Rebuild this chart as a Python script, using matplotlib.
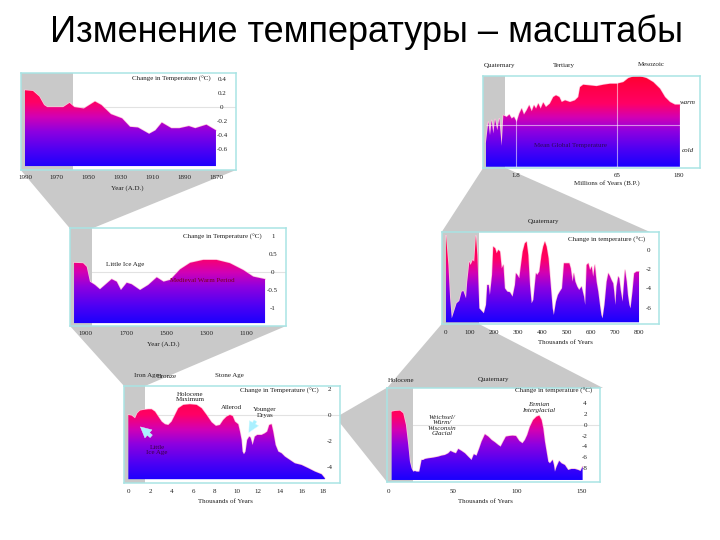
import numpy as np
import matplotlib
matplotlib.use('Agg')
import matplotlib.pyplot as plt
from matplotlib.colors import LinearSegmentedColormap
from matplotlib.patches import Polygon

plt.rcParams['font.family'] = ['Liberation Serif', 'DejaVu Serif']

TITLE = "Изменение температуры – масштабы"

# ---------------- data ----------------
# Panel 1: last ~120 years
p1_year = [1990, 1985, 1981, 1978, 1976, 1966, 1962, 1959, 1953, 1946, 1942, 1936, 1929,
           1924, 1919, 1912, 1908, 1904, 1898, 1893, 1887, 1883, 1876, 1870]
p1_temp = [0.24, 0.23, 0.15, 0.03, 0.0, 0.0, 0.06, 0.0, -0.02, 0.08, 0.03, -0.1, -0.16,
           -0.28, -0.29, -0.38, -0.33, -0.22, -0.3, -0.3, -0.27, -0.3, -0.25, -0.33]
p1_xticks = [1990, 1970, 1950, 1930, 1910, 1890, 1870]
p1_yticks = [0.4, 0.2, 0, -0.2, -0.4, -0.6]
p1_ylabels = ['0.4', '0.2', '0', '-0.2', '-0.4', '-0.6']

# Panel 2: last ~1000 years
p2_year = [1958, 1913, 1895, 1879, 1854, 1829, 1804, 1771, 1746, 1725, 1696, 1672, 1630,
           1589, 1547, 1513, 1480, 1431, 1381, 1316, 1250, 1184, 1117, 1068, 1009]
p2_temp = [0.25, 0.24, 0.14, -0.27, -0.36, -0.48, -0.36, -0.2, -0.27, -0.5, -0.3, -0.34, -0.5,
           -0.36, -0.15, -0.27, -0.22, 0.07, 0.25, 0.33, 0.33, 0.24, 0.05, -0.13, -0.2]
p2_xticks = [1900, 1700, 1500, 1300, 1100]
p2_yticks = [1, 0.5, 0, -0.5, -1]
p2_ylabels = ['1', '0.5', '0', '-0.5', '-1']

# Panel 3: 180 million years (relative units)
p3_myr = [0.0, 0.14, 0.24, 0.34, 0.44, 0.54, 0.68, 0.8, 0.94, 1.04, 1.24, 1.4, 1.54, 1.68,
          2.24, 3.9, 5.4, 6.8, 8.5, 10.1, 11.7, 13.1, 14.4, 15.8, 17.3, 18.9, 20.6, 23.1,
          25.2, 26.9, 29.0, 30.5, 32.6, 35.7, 38.8, 40.9, 42.0, 44.0, 48.2, 52.4, 56.6, 60.8,
          65.0, 77.4, 86.7, 96.0, 108.5, 121.0, 133.3, 145.8, 155.2, 164.5, 173.8, 183.0]
p3_temp = [2.6, 4.6, 3.27, 4.77, 3.44, 4.87, 3.77, 4.94, 2.2, 5.27, 5.1, 5.34, 4.94, 5.1,
           4.6, 5.44, 5.94, 5.34, 5.77, 6.27, 5.67, 6.27, 5.94, 6.44, 5.94, 6.54, 6.1, 6.44,
           7.1, 7.27, 7.1, 6.6, 6.77, 6.6, 6.77, 7.1, 8.1, 8.34, 8.27, 8.2, 8.34, 8.44,
           8.44, 8.6, 9.0, 9.17, 9.2, 9.0, 8.6, 7.94, 7.1, 6.6, 6.34, 6.34]
p3_xticks = [1.8, 65, 180]
p3_xlabels = ['1.8', '65', '180']
p3_breaks = [1.8, 65]
p3_mean = 4.27

# Panel 4: 800 thousand years
p4_kyr = [0, 10, 17, 24, 33, 44, 55, 65, 72, 83, 88, 97, 102, 111, 117, 124, 130, 138, 148, 157,
          166, 171, 177, 182, 191, 196, 204, 210, 217, 224, 231, 238, 244, 254, 265, 276, 286,
          290, 296, 304, 309, 318, 327, 334, 341, 348, 355, 362, 373, 378, 387, 396, 403, 410,
          417, 425, 434, 442, 447, 456, 464, 472, 481, 489, 500, 511, 517, 525, 530, 536, 544,
          552, 562, 572, 577, 583, 590, 597, 604, 610, 617, 624, 631, 638, 644, 649, 657, 666,
          673, 680, 686, 693, 697, 702, 707, 714, 718, 724, 732, 742, 749, 754, 760, 765, 773,
          780, 790, 800]
p4_temp = [1.42, -1.59, -5.02, -7.08, -6.39, -5.53, -5.29, -4.33, -4.27, -5.02,
           -3.31, -1.25, -1.59, -1.08, -1.25, 1.42, -0.57, -6.05, -6.32, -6.56,
           -5.70, -3.65, -3.65, -4.68, -2.62, 0.29, 0.12, -0.39, -0.05, -0.22,
           -1.94, -1.59, -3.99, -4.33, -4.40, -4.85, -3.65, -2.45, -2.62, -2.96,
           -1.94, -0.22, 0.63, 0.80, -0.57, -3.65, -5.53, -5.19, -2.45, -2.62,
           -2.28, -0.57, 0.29, 0.80, 0.29, -0.91, -3.65, -6.05, -6.73, -5.36,
           -4.68, -4.33, -3.99, -1.42, -1.42, -1.42, -1.94, -3.31, -2.45, -3.31,
           -3.82, -4.16, -3.82, -4.85, -5.70, -1.59, -1.42, -2.11, -1.76, -2.79,
           -1.59, -3.31, -4.33, -5.70, -6.73, -7.08, -5.70, -3.31, -2.45, -2.79,
           -3.14, -3.48, -4.33, -5.70, -3.82, -2.79, -2.96, -4.16, -5.36, -2.11,
           -3.31, -4.68, -5.70, -6.05, -4.33, -2.45, -2.28, -2.28]
p4_xticks = [0, 100, 200, 300, 400, 500, 600, 700, 800]
p4_yticks = [0, -2, -4, -6]
p4_ylabels = ['0', '-2', '-4', '-6']

# Panel 5: 18 thousand years
p5_kyr = [0, 0.31, 0.62, 0.83, 1.08, 1.38, 1.85, 2.15, 2.46, 2.77, 3.08, 3.38, 3.69, 4.0,
          4.31, 4.62, 5.08, 5.69, 6.31, 6.77, 7.23, 7.69, 8.09, 8.46, 8.77, 9.08, 9.38, 9.63,
          9.85, 10.15, 10.31, 10.46, 10.55, 10.68, 10.83, 10.98, 11.17, 11.29, 11.48, 11.69,
          11.91, 12.31, 12.62, 12.83, 13.02, 13.23, 13.38, 13.6, 13.85, 14.15, 14.46, 14.92,
          15.38, 16.0, 16.62, 17.23, 17.85, 18.15]
p5_temp = [0.0, -0.05, -0.26, 0.13, 0.34, 0.39, 0.44, 0.44, 0.26, -0.13, -0.52, -0.72, -0.78,
           -0.52, 0.0, 0.52, 0.78, 0.83, 0.78, 0.52, 0.0, -0.57, -0.85, -0.78, -0.39, -0.13,
           0.0, -0.08, -0.52, -0.72, -1.29, -1.94, -2.84, -3.05, -2.84, -1.94, -1.68, -1.76,
           -2.33, -1.68, -1.55, -1.55, -1.42, -1.29, -0.78, -0.72, -1.29, -2.33, -2.84, -2.97,
           -3.23, -3.49, -3.75, -3.88, -4.13, -4.39, -4.6, -4.91]
p5_xticks = [0, 2, 4, 6, 8, 10, 12, 14, 16, 18]
p5_yticks = [2, 0, -2, -4]
p5_ylabels = ['2', '0', '-2', '-4']

# Panel 6: 150 thousand years
p6_kyr = [2.6, 5.2, 9.1, 11.6, 13.7, 15.5, 16.8, 18.1, 19.4, 20.7, 22.0, 24.1, 25.9, 27.2,
          28.5, 31.1, 35.0, 38.8, 41.4, 44.0, 46.6, 48.4, 50.5, 52.6, 54.4, 57.0, 59.6, 62.1,
          64.7, 66.5, 68.6, 70.7, 72.5, 75.1, 77.7, 80.3, 82.9, 85.4, 87.3, 89.3, 91.4, 94.0,
          96.6, 99.2, 101.8, 104.3, 106.2, 108.0, 110.1, 112.6, 115.2, 117.3, 119.1, 120.4,
          121.7, 123.0, 124.3, 125.6, 127.7, 128.7, 129.5, 130.8, 132.8, 134.6, 137.2, 139.8,
          142.4, 145.0, 147.6, 149.4, 151.0]
p6_temp = [2.44, 2.57, 2.63, 2.13, -0.04, -3.76, -6.87, -8.11, -8.73, -8.61, -8.73, -8.73,
           -6.56, -6.56, -6.37, -6.25, -6.12, -5.94, -5.75, -5.63, -5.32, -4.88, -5.13, -5.32,
           -4.51, -4.88, -5.32, -5.94, -6.56, -5.5, -5.75, -4.39, -3.14, -1.78, -2.21, -2.83,
           -3.27, -3.76, -4.07, -3.14, -2.21, -2.09, -2.03, -2.09, -3.02, -3.45, -2.83, -1.90,
           -0.35, 0.89, 1.51, 1.70, 0.89, -0.66, -3.14, -5.0, -6.87, -7.18, -6.56, -7.49,
           -8.73, -7.8, -6.74, -7.18, -7.49, -8.42, -8.23, -8.23, -8.42, -8.61, -7.8]
p6_xticks = [0, 50, 100, 150]
p6_yticks = [4, 2, 0, -2, -4, -6, -8]
p6_ylabels = ['4', '2', '0', '-2', '-4', '-6', '-8']

# ---------------- style ----------------
W, H = 720, 540
GREY = '#c9c9c9'
FRAME = '#a9e4e4'
TXT = '#1e1e1e'
FS = 5
CMAP = LinearSegmentedColormap.from_list(
    'temp', [(0.0, '#1400ff'), (0.2, '#4c00f4'), (0.4, '#8e00e0'),
             (0.55, '#d200b4'), (0.7, '#ff0066'), (1.0, '#ff0030')])
GRAD = np.linspace(0, 1, 256).reshape(-1, 1)

fig = plt.figure(figsize=(W / 100, H / 100), dpi=100)
bg = fig.add_axes([0, 0, 1, 1])
bg.set_xlim(0, W)
bg.set_ylim(H, 0)
bg.axis('off')

connectors = [
    [(20.7, 170), (236, 170), (92, 228.5), (70, 228.5)],
    [(70, 326), (286, 326), (145, 386), (124, 386)],
    [(340, 415), (387, 387.7), (387, 482), (340, 423)],
    [(441.7, 324), (479, 324), (603, 388), (387, 388)],
    [(483.3, 167.7), (505, 167.7), (650, 232), (441.7, 232)],
]
for c in connectors:
    bg.add_patch(Polygon(c, closed=True, facecolor=GREY, edgecolor='none'))

bg.text(366, 32, TITLE, ha='center', va='center', fontsize=26, color='black',
        family=['Liberation Sans', 'DejaVu Sans'])


def make_panel(rect, xlim, ylim, scale=None):
    x0, y0, x1, y1 = rect
    ax = fig.add_axes([x0 / W, 1 - y1 / H, (x1 - x0) / W, (y1 - y0) / H])
    if scale is not None:
        ax.set_xscale('function', functions=scale)
    ax.set_facecolor('white')
    for s in ax.spines.values():
        s.set_color(FRAME)
        s.set_linewidth(1.1)
    ax._rect = rect
    ax._lims = (xlim, ylim)
    return ax


def gradient_fill(ax, x, y, base):
    poly = ax.fill_between(x, y, base, facecolor='none', edgecolor='none')
    ax.plot(x, y, color='#ffc4dc', lw=1.0, zorder=1.9, solid_joinstyle='round')
    im = ax.imshow(GRAD, extent=[0, 1, 0, 1], transform=ax.transAxes, origin='lower',
                   cmap=CMAP, aspect='auto', zorder=2, interpolation='bilinear')
    im.set_clip_path(poly.get_paths()[0], transform=ax.transData)


def finish(ax, grey_to, xticks, xlabels, yticks, ylabels, ypad, xlabel, xlabel_pos,
           xpad=3.5):
    xlim, ylim = ax._lims
    ax.axvspan(xlim[0], grey_to, color=GREY, zorder=1.3, lw=0)
    ax.set_xlim(*xlim)
    ax.set_ylim(*ylim)
    ax.set_xticks(xticks, xlabels)
    ax.tick_params(axis='x', which='both', length=0, pad=xpad, labelsize=FS,
                   labelcolor=TXT)
    ax.yaxis.tick_right()
    if yticks:
        ax.set_yticks(yticks, ylabels, ha='center')
    else:
        ax.set_yticks([])
    ax.tick_params(axis='y', which='both', length=0, pad=ypad, labelsize=FS,
                   labelcolor=TXT)
    x0, y0, x1, y1 = ax._rect
    ax.set_xlabel(xlabel, fontsize=FS, color=TXT)
    ax.xaxis.set_label_coords((xlabel_pos[0] - x0) / (x1 - x0),
                              (y1 - xlabel_pos[1]) / (y1 - y0))
    ax.xaxis.label.set_va('center')


def ftext(ax, px, py, s, **kw):
    kw.setdefault('fontsize', FS)
    kw.setdefault('color', TXT)
    kw.setdefault('va', 'center')
    kw.setdefault('ha', 'center')
    kw.setdefault('linespacing', 1.0)
    ax.text(px / W, 1 - py / H, s, transform=fig.transFigure, **kw)


def pt(px):
    return px * 0.72

# ---------------- Panel 1 ----------------
ax1 = make_panel((20.7, 73.3, 236, 170), (1992.7, 1857.4), (-0.894, 0.481))
ax1.axhline(0, color='#e2e2e2', lw=0.8, zorder=1.2)
gradient_fill(ax1, p1_year, p1_temp, -0.838)
finish(ax1, 1960, p1_xticks, [str(v) for v in p1_xticks], p1_yticks, p1_ylabels,
       pt(222 - 236), 'Year (A.D.)', (127, 188))
ftext(ax1, 211, 79, 'Change in Temperature (°C)', ha='right')

# ---------------- Panel 2 ----------------
ax2 = make_panel((70, 228.3, 286, 326), (1978, 905), (-1.49, 1.201))
ax2.axhline(0, color='#e2e2e2', lw=0.8, zorder=1.2)
gradient_fill(ax2, p2_year, p2_temp, -1.41)
finish(ax2, 1869, p2_xticks, [str(v) for v in p2_xticks], p2_yticks, p2_ylabels,
       pt(272.7 - 286), 'Year (A.D.)', (163, 344))
ftext(ax2, 261.7, 236.7, 'Change in Temperature (°C)', ha='right')
ftext(ax2, 125, 264.3, 'Little Ice Age')
ftext(ax2, 202.7, 281, 'Medieval Warm Period', color='#7a0018')

# ---------------- Panel 3 ----------------
_m = [-1, 0, 1.8, 65, 180, 300]
_p = [-16.67, 0, 30, 130.7, 192.3, 256.6]
p3_scale = (lambda v: np.interp(v, _m, _p), lambda v: np.interp(v, _p, _m))
ax3 = make_panel((483.3, 75.7, 700, 167.7), (-0.162, 220.5), (0, 9.25), scale=p3_scale)
gradient_fill(ax3, p3_myr, p3_temp, 0.1)
for b in p3_breaks:
    ax3.axvline(b, color='white', alpha=0.55, lw=0.8, zorder=2.5)
ax3.hlines(p3_mean, 0, 183, color='white', alpha=0.55, lw=0.8, zorder=2.5)
finish(ax3, 1.14, p3_xticks, p3_xlabels, [], [], 0, 'Millions of Years (B.P.)',
       (606.7, 183.3), xpad=4)
ftext(ax3, 499.3, 65, 'Quaternary')
ftext(ax3, 564.3, 65, 'Tertiary')
ftext(ax3, 651.7, 65, 'Mesozoic')
ftext(ax3, 688, 102.7, 'warm', style='italic')
ftext(ax3, 688, 150, 'cold', style='italic')
ftext(ax3, 570, 145, 'Mean Global Temperature', color='#2c0a5a')

# ---------------- Panel 4 ----------------
ax4 = make_panel((441.7, 231.7, 659.3, 324.3), (-17.8, 884), (-7.69, 1.83))
gradient_fill(ax4, p4_kyr, p4_temp, -7.48)
finish(ax4, 138, p4_xticks, [str(v) for v in p4_xticks], p4_yticks, p4_ylabels,
       pt(648.3 - 659.3), 'Thousands of Years', (565, 342.7), xpad=4)
ftext(ax4, 645, 240, 'Change in temperature (°C)', ha='right')
ftext(ax4, 543.3, 221.7, 'Quaternary')

# ---------------- Panel 5 ----------------
ax5 = make_panel((124, 385.7, 340, 483.3), (-0.4, 19.55), (-5.3, 2.27))
ax5.axhline(0, color='#e2e2e2', lw=0.8, zorder=1.2)
gradient_fill(ax5, p5_kyr, p5_temp, -4.98)
finish(ax5, 1.54, p5_xticks, [str(v) for v in p5_xticks], p5_yticks, p5_ylabels,
       pt(329.3 - 340), 'Thousands of Years', (225, 501.7), xpad=4)
ftext(ax5, 318.3, 390.7, 'Change in Temperature (°C)', ha='right')
ftext(ax5, 134, 376, 'Iron Age', ha='left')
ftext(ax5, 157, 376, 'Bronze', ha='left')
ftext(ax5, 229, 376, 'Stone Age')
ftext(ax5, 190, 397, 'Holocene\nMaximum')
ftext(ax5, 231.7, 407.7, 'Allerod')
ftext(ax5, 265, 412.5, 'Younger\nDryas')
ftext(ax5, 157, 450, 'Little\nIce Age', color='#3a0040')
arrow = dict(arrowstyle='simple,head_width=1.1,head_length=1.1,tail_width=0.35',
             fc='#aaf0ff', ec='#d8ffff', lw=0.3, mutation_scale=7)
ax5.annotate('', xy=(0.92, -0.78), xytext=(2.31, -1.8), arrowprops=arrow, zorder=4)
ax5.annotate('', xy=(11.0, -1.55), xytext=(11.86, -0.26), arrowprops=arrow, zorder=4)

# ---------------- Panel 6 ----------------
ax6 = make_panel((386.7, 387.7, 600, 481.7), (-1.24, 164.5), (-10.6, 6.9))
ax6.axhline(0, color='#e2e2e2', lw=0.8, zorder=1.2)
gradient_fill(ax6, p6_kyr, p6_temp, -10.28)
finish(ax6, 19, p6_xticks, [str(v) for v in p6_xticks], p6_yticks, p6_ylabels,
       pt(585 - 600), 'Thousands of Years', (485, 501.7), xpad=5)
ftext(ax6, 591.7, 391, 'Change in temperature (°C)', ha='right')
ftext(ax6, 400.8, 380, 'Holocene')
ftext(ax6, 493.3, 380, 'Quaternary')
ftext(ax6, 441.7, 425.5, 'Weichsel/\nWürm/\nWisconsin\nGlacial', style='italic',
      linespacing=1.15)
ftext(ax6, 538.3, 407.5, 'Eemian\nInterglacial', style='italic', linespacing=1.1)

fig.savefig('out.png', dpi=100)
